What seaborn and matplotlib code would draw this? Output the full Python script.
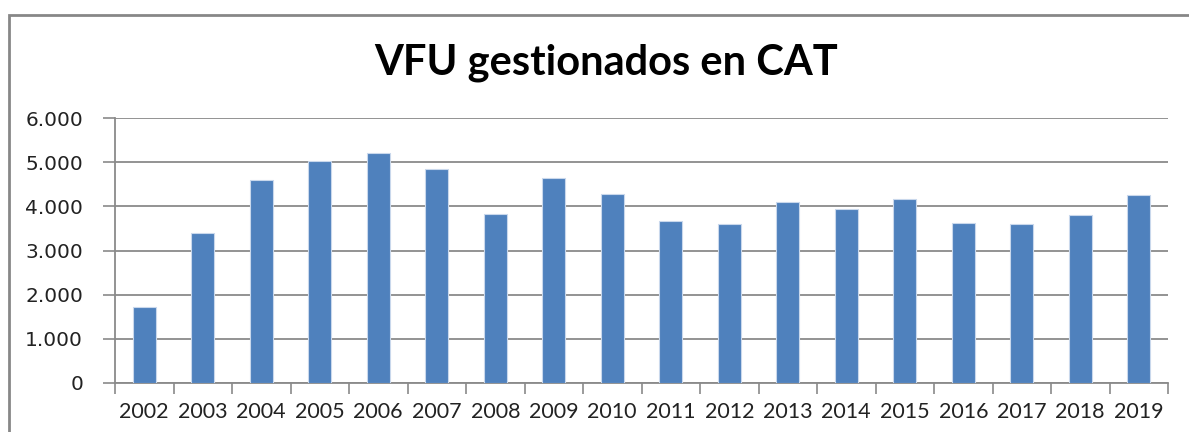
import matplotlib
matplotlib.use("Agg")
import matplotlib.pyplot as plt
import seaborn as sns
import pandas as pd
import numpy as np
from matplotlib.patches import Rectangle
from matplotlib.ticker import FixedLocator

# ---- data ----
years = ["2002", "2003", "2004", "2005", "2006", "2007", "2008", "2009", "2010",
         "2011", "2012", "2013", "2014", "2015", "2016", "2017", "2018", "2019"]
vfu = [1725, 3390, 4600, 5020, 5210, 4840, 3830, 4650, 4290,
       3660, 3600, 4100, 3945, 4155, 3630, 3600, 3810, 4260]
y_ticks = [0, 1000, 2000, 3000, 4000, 5000, 6000]
y_tick_labels = ["0", "1.000", "2.000", "3.000", "4.000", "5.000", "6.000"]
title = "VFU gestionados en CAT"

df = pd.DataFrame({"year": years, "vfu": vfu})

sns.set_theme(style="white")
plt.rcParams["font.family"] = ["Lato", "DejaVu Sans"]

W, H = 1189, 432
fig = plt.figure(figsize=(W / 100, H / 100), dpi=100)
ax = fig.add_axes([115 / W, (H - 383) / H, (1168 - 115) / W, (383 - 118) / H])

grid_c = "#8a8a8a"
sns.barplot(data=df, x="year", y="vfu", ax=ax, color="#4F81BD", saturation=1,
            width=0.4, edgecolor="#c9d8ec", linewidth=0.8, zorder=3)

ax.set_xlim(-0.5, len(years) - 0.5)
ax.set_ylim(0, 6000)
ax.set_yticks(y_ticks)
ax.set_yticklabels(y_tick_labels, fontfamily="DejaVu Sans", fontsize=14.5, color="#222222")
ax.yaxis.grid(True, color=grid_c, linewidth=1.3, zorder=0)
ax.set_axisbelow(True)

# x ticks: labels at centers, tick marks at category boundaries
ax.tick_params(axis="x", which="major", length=0, pad=14, labelsize=15.5, labelcolor="#222222")
ax.xaxis.set_minor_locator(FixedLocator(np.arange(-0.5, len(years), 1.0)))
ax.tick_params(axis="x", which="minor", length=8, width=1.2, color=grid_c, direction="out", bottom=True)
ax.tick_params(axis="y", which="major", length=9, width=1.2, color=grid_c, direction="out", left=True, pad=14)

for s in ["top", "right"]:
    ax.spines[s].set_visible(False)
ax.spines["left"].set_color(grid_c)
ax.spines["left"].set_linewidth(1.3)
ax.spines["bottom"].set_color(grid_c)
ax.spines["bottom"].set_linewidth(1.3)
ax.set_xlabel("")
ax.set_ylabel("")

fig.text(606 / W, 1 - 63 / H, title, ha="center", va="center",
         fontsize=30, fontweight="bold", color="#000000", fontfamily=["Lato", "DejaVu Sans"])

# outer chart frame
fig.patches.append(Rectangle((9 / W, -0.1), 1.2, 1 - 15 / H + 0.1, transform=fig.transFigure,
                             fill=False, edgecolor="#878787", linewidth=2))

fig.savefig("out.png", dpi=100)
